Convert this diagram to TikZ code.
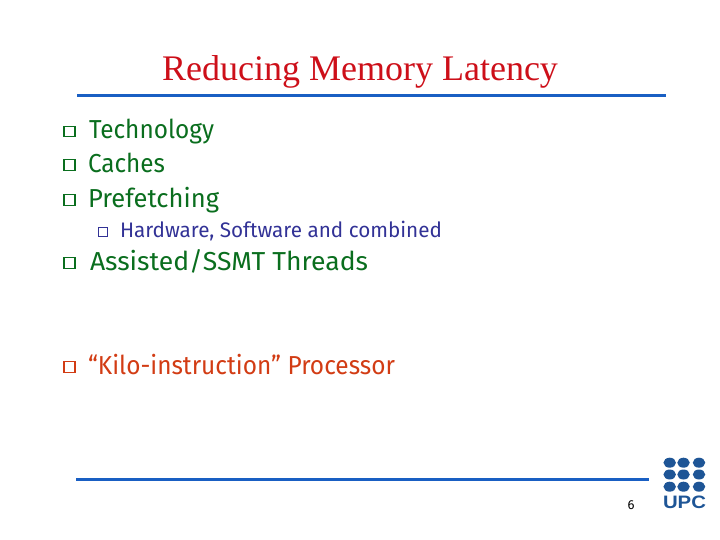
\documentclass[tikz,border=0pt]{standalone}
\usepackage{fontspec}
\usepackage{graphicx}
\setmainfont{Liberation Serif}
\newfontfamily\bodyfont{Fira Sans}
\newfontfamily\logofont{Liberation Sans}
\definecolor{titlered}{RGB}{205,15,25}
\definecolor{rulecol}{RGB}{25,95,195}
\definecolor{itemgreen}{RGB}{10,110,30}
\definecolor{subblue}{RGB}{50,50,150}
\definecolor{kilored}{RGB}{210,60,20}
\definecolor{upcblue}{RGB}{30,85,150}
\newcommand{\fitw}[2]{\resizebox{#1}{\height}{#2}}
\usetikzlibrary{shapes.geometric}
\tikzset{
  every node/.style={inner sep=0pt,outer sep=0pt},
  itemtext/.style={anchor=base west,font=\bodyfont\fontsize{26}{30}\selectfont,text=itemgreen},
  subtext/.style={anchor=base west,font=\bodyfont\fontsize{21}{25}\selectfont,text=subblue},
  rulebar/.style={draw=rulecol,line width=3pt},
  bulletbox/.style={draw,line width=1.3pt,minimum width=11pt,minimum height=10.5pt,anchor=center},
  subbullet/.style={draw,line width=1pt,minimum width=9pt,minimum height=8.5pt,anchor=center},
  logodot/.style={ellipse,fill=upcblue,minimum width=12.5pt,minimum height=10pt}
}
\begin{document}
\begin{tikzpicture}[x=1pt,y=-1pt]
\useasboundingbox (0,0) rectangle (720,540);
\node[anchor=base,text=titlered,font=\fontsize{36}{40}\selectfont] (title) at (360,80.5) {Reducing Memory Latency};
\coordinate (tl) at (77,96); \coordinate (tr) at (666,96);
\draw[rulebar] (tl) -- (tr);
\coordinate (bl) at (76,479); \coordinate (br) at (649,479);
\draw[rulebar] (bl) -- (br);

\node[bulletbox,draw=itemgreen] (b1) at (69.5,131.5) {};
\node[bulletbox,draw=itemgreen] (b2) at (69.5,165) {};
\node[bulletbox,draw=itemgreen] (b3) at (69.5,200) {};
\node[subbullet,draw=subblue] (b4) at (103,232) {};
\node[bulletbox,draw=itemgreen] (b5) at (69.5,263) {};
\node[bulletbox,draw=kilored] (b6) at (69.5,367) {};

\node[itemtext] (t1) at (89,139) {\fitw{125pt}{Technology}};
\node[itemtext] (t2) at (88,172.5) {\fitw{77pt}{Caches}};
\node[itemtext] (t3) at (88,207.5) {\fitw{131pt}{Prefetching}};
\node[subtext] (t4) at (120,237) {\fitw{322pt}{Hardware, Software and combined}};
\node[itemtext] (t5) at (90,270.5) {\fitw{278pt}{Assisted/SSMT Threads}};
\node[itemtext,text=kilored] (t6) at (88,374.5) {\fitw{307pt}{“Kilo-instruction” Processor}};

\node[anchor=base,font=\bodyfont\fontsize{13}{15}\selectfont] (pg) at (631,509) {6};

\foreach \r/\y in {1/462.7,2/474.5,3/486.7}{
  \foreach \c/\x in {1/669.7,2/683.5,3/699}{
    \node[logodot] (d\r\c) at (\x,\y) {};
  }
}
\node[anchor=base west,text=upcblue,font=\logofont\bfseries\fontsize{18}{20}\selectfont] (upc) at (663,508) {\fitw{43pt}{UPC}};
\end{tikzpicture}
\end{document}
